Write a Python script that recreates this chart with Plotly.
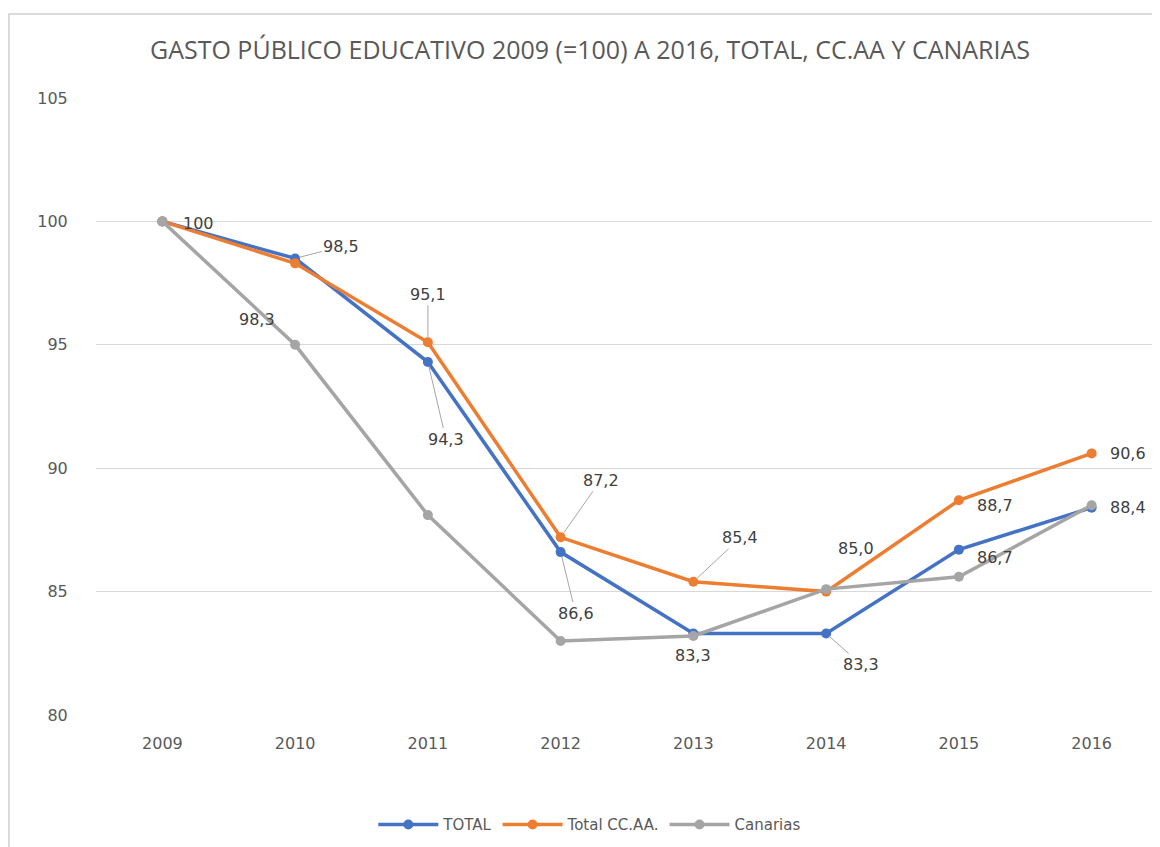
import plotly.graph_objects as go

years = ["2009", "2010", "2011", "2012", "2013", "2014", "2015", "2016"]
total = [100.0, 98.5, 94.3, 86.6, 83.3, 83.3, 86.7, 88.4]
ccaa = [100.0, 98.3, 95.1, 87.2, 85.4, 85.0, 88.7, 90.6]
canarias = [100.0, 95.0, 88.1, 83.0, 83.2, 85.1, 85.6, 88.5]
series_names = ["TOTAL", "Total CC.AA.", "Canarias"]
colors = ["#4472C4", "#ED7D31", "#A5A5A5"]
yticks = [80, 85, 90, 95, 100, 105]

def fmt(v):
    s = f"{v:.1f}".replace(".", ",")
    return "100" if v == 100 else s

fig = go.Figure()
for name, vals, col in zip(series_names, [total, ccaa, canarias], colors):
    fig.add_trace(go.Scatter(
        x=years, y=vals, name=name, mode="lines+markers",
        line=dict(color=col, width=3.5),
        marker=dict(color=col, size=10, symbol="circle"),
    ))

# label placement: (series values, index, text x offset px, text y offset px, leader line)
label_specs = [
    (total, 0, 36, 2, False),
    (total, 1, 46, -12, True),
    (ccaa, 1, -38, 56, False),
    (ccaa, 2, 0, -48, True),
    (total, 2, 18, 77, True),
    (ccaa, 3, 40, -57, True),
    (total, 3, 15, 61, True),
    (ccaa, 4, 47, -44, True),
    (total, 4, 0, 22, False),
    (ccaa, 5, 30, -43, False),
    (total, 5, 35, 31, True),
    (ccaa, 6, 36, 5, False),
    (total, 6, 36, 8, False),
    (ccaa, 7, 36, 0, False),
    (total, 7, 36, 0, False),
]
lab_font = dict(family="DejaVu Sans", size=16, color="#404040")
for vals, i, dx, dy, leader in label_specs:
    if leader:
        fig.add_annotation(
            x=i, y=vals[i], xref="x", yref="y", text=fmt(vals[i]), showarrow=True,
            arrowhead=0, arrowwidth=1, arrowcolor="#A6A6A6",
            ax=dx, ay=dy, standoff=4, font=lab_font,
        )
    else:
        fig.add_annotation(
            x=i, y=vals[i], xref="x", yref="y", text=fmt(vals[i]), showarrow=False,
            xshift=dx, yshift=-dy, font=lab_font,
        )

fig.add_shape(type="rect", xref="paper", yref="paper",
              x0=(1 - 88) / 1062, x1=1.2, y0=-0.4, y1=(707 - 6) / 617,
              line=dict(color="#D0D0D0", width=1.5), fillcolor="rgba(0,0,0,0)",
              layer="below")

fig.update_layout(
    width=1160, height=847,
    paper_bgcolor="white", plot_bgcolor="white",
    margin=dict(l=88, r=10, t=90, b=140),
    title=dict(text="GASTO PÚBLICO EDUCATIVO 2009 (=100) A 2016, TOTAL, CC.AA Y CANARIAS",
               x=(582 - 88) / 1062, xref="paper", xanchor="center", y=0.950, yanchor="middle",
               font=dict(family="Open Sans", size=25, color="#595959")),
    xaxis=dict(type="category", range=[-0.5, 7.5], showgrid=False, zeroline=False,
               showline=False, ticks="outside", ticklen=14, tickcolor="rgba(0,0,0,0)",
               tickfont=dict(family="DejaVu Sans", size=16, color="#595959")),
    yaxis=dict(range=[80, 105], tickvals=yticks, showgrid=True, gridcolor="#D9D9D9",
               gridwidth=1.2, zeroline=False, showline=False, ticks="outside",
               ticklen=24, tickcolor="rgba(0,0,0,0)",
               tickfont=dict(family="DejaVu Sans", size=16, color="#595959")),
    legend=dict(orientation="h", x=0.465, xanchor="center", y=-0.178, yanchor="middle",
                font=dict(family="DejaVu Sans", size=15, color="#595959"),
                itemwidth=60),
    showlegend=True,
)

fig.write_html("out.html")
